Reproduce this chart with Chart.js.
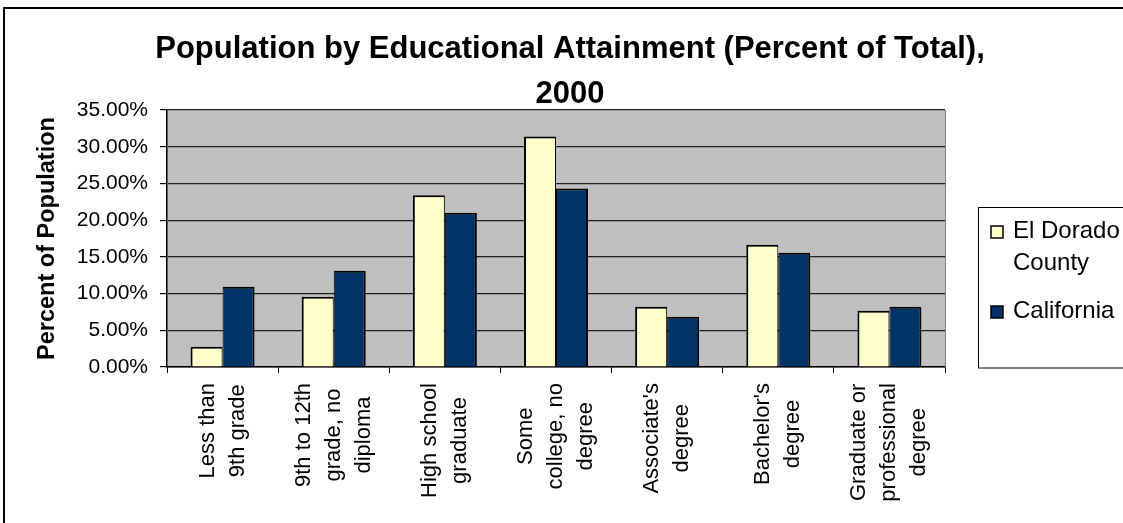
<!DOCTYPE html>
<html>
<head>
<meta charset="utf-8">
<script src="https://cdn.jsdelivr.net/npm/chart.js@4.4.1/dist/chart.umd.min.js"></script>
<style>
html,body{margin:0;padding:0;background:#fff;}
#wrap{width:1123px;height:523px;position:relative;}
</style>
</head>
<body>
<div id="wrap"><canvas id="c" width="1123" height="523"></canvas></div>
<script>
// ---- data ----
const titleLines = ["Population by Educational Attainment (Percent of Total),", "2000"];
const categories = [
  ["Less than", "9th grade"],
  ["9th to 12th", "grade, no", "diploma"],
  ["High school", "graduate"],
  ["Some", "college, no", "degree"],
  ["Associate's", "degree"],
  ["Bachelor's", "degree"],
  ["Graduate or", "professional", "degree"]
];
const seriesNames = ["El Dorado County", "California"];
const elDorado   = [2.76, 9.57, 23.40, 31.40, 8.20, 16.65, 7.67];
const california = [10.94, 13.10, 21.00, 24.30, 6.85, 15.57, 8.20];
const yTickValues = [0, 5, 10, 15, 20, 25, 30, 35];
const yTitle = "Percent of Population";

const FONT = "'Liberation Sans', Arial, Helvetica, sans-serif";

const decor = {
  id: 'decor',
  beforeDraw(chart) {
    const {ctx, chartArea: a} = chart;
    ctx.save();
    ctx.fillStyle = '#ffffff';
    ctx.fillRect(0, 0, chart.width, chart.height);
    ctx.fillStyle = '#C0C0C0';
    ctx.fillRect(a.left, a.top, a.right - a.left, a.bottom - a.top);
    ctx.restore();
  },
  afterDraw(chart) {
    const {ctx, chartArea: a} = chart;
    ctx.save();
    // plot area right edge
    ctx.strokeStyle = '#808080';
    ctx.lineWidth = 1;
    ctx.beginPath();
    ctx.moveTo(a.right + 0.5, a.top);
    ctx.lineTo(a.right + 0.5, a.bottom);
    ctx.stroke();

    // outer chart border
    ctx.strokeStyle = '#000';
    ctx.lineWidth = 2;
    ctx.strokeRect(4, 8, 1300, 700);

    // title
    ctx.fillStyle = '#000';
    ctx.font = "bold 31px " + FONT;
    ctx.textAlign = 'center';
    ctx.textBaseline = 'alphabetic';
    ctx.fillText(titleLines[0], 570, 58);
    ctx.fillText(titleLines[1], 570, 103);

    // x category labels (rotated, multi-line, centered)
    const xs = chart.scales.x;
    ctx.font = "22px " + FONT;
    const lh = 30;
    const top = a.bottom + 16;
    chart.data.labels.forEach((lab, i) => {
      const lines = Array.isArray(lab) ? lab : [lab];
      const px = xs.getPixelForValue(i);
      let w = 0;
      lines.forEach(l => { w = Math.max(w, ctx.measureText(l).width); });
      const cy = top + w / 2;
      lines.forEach((l, j) => {
        const cx = px + (j - (lines.length - 1) / 2) * lh;
        ctx.save();
        ctx.translate(cx, cy);
        ctx.rotate(-Math.PI / 2);
        ctx.textAlign = 'center';
        ctx.textBaseline = 'middle';
        ctx.fillText(l, 0, 0);
        ctx.restore();
      });
    });

    // legend
    const lx = 978.5, ly = 207.5;
    ctx.strokeStyle = '#000';
    ctx.lineWidth = 1;
    ctx.strokeRect(lx, ly, 300, 160.5);
    ctx.font = "24px " + FONT;
    ctx.textAlign = 'left';
    ctx.textBaseline = 'alphabetic';
    let base = 238;
    chart.data.datasets.forEach(ds => {
      const words = ds.label.split(' ');
      const lines = [];
      let cur = '';
      words.forEach(wd => {
        const t = cur ? cur + ' ' + wd : wd;
        if (cur && ctx.measureText(t).width > 115) { lines.push(cur); cur = wd; } else { cur = t; }
      });
      if (cur) lines.push(cur);
      ctx.fillStyle = ds.backgroundColor;
      ctx.fillRect(991, base - 12, 12, 12);
      ctx.strokeStyle = '#000';
      ctx.lineWidth = 1.5;
      ctx.strokeRect(991, base - 12, 12, 12);
      ctx.fillStyle = '#000';
      lines.forEach((l, j) => ctx.fillText(l, 1013, base + j * 32));
      base += (lines.length - 1) * 32 + 48;
    });
    ctx.restore();
  }
};

new Chart(document.getElementById('c'), {
  type: 'bar',
  data: {
    labels: categories,
    datasets: [
      {
        label: seriesNames[0],
        data: elDorado,
        backgroundColor: '#FFFFCC',
        borderColor: '#000',
        borderWidth: {top: 2, left: 2, right: 1, bottom: 0},
        borderSkipped: 'start',
        categoryPercentage: 0.576,
        barPercentage: 1.0
      },
      {
        label: seriesNames[1],
        data: california,
        backgroundColor: '#003366',
        borderColor: '#000',
        borderWidth: {top: 2, left: 1, right: 2, bottom: 0},
        borderSkipped: 'start',
        categoryPercentage: 0.576,
        barPercentage: 1.0
      }
    ]
  },
  options: {
    responsive: false,
    animation: false,
    devicePixelRatio: 1,
    layout: {padding: {top: 110, right: 178, left: 0, bottom: 0}},
    plugins: {
      legend: {display: false},
      title: {display: false},
      tooltip: {enabled: false}
    },
    scales: {
      x: {
        grid: {drawOnChartArea: false, drawTicks: true, tickLength: 6, color: '#000', offset: true},
        border: {color: '#000', width: 1.5},
        ticks: {display: false},
        afterFit: s => { s.height = 156; }
      },
      y: {
        min: 0,
        max: 35,
        afterBuildTicks: s => { s.ticks = yTickValues.map(v => ({value: v})); },
        ticks: {
          callback: v => Number(v).toFixed(2) + '%',
          font: {size: 21, family: FONT},
          color: '#000',
          padding: 12
        },
        grid: {color: '#1f1f1f', lineWidth: 1.2, tickLength: 7, tickColor: '#000'},
        border: {color: '#000', width: 1.5},
        title: {
          display: true,
          text: yTitle,
          color: '#000',
          font: {size: 23.5, weight: 'bold', family: FONT},
          padding: {top: 33, bottom: 0}
        },
        afterFit: s => { s.width = 167; }
      }
    }
  },
  plugins: [decor]
});
</script>
</body>
</html>
